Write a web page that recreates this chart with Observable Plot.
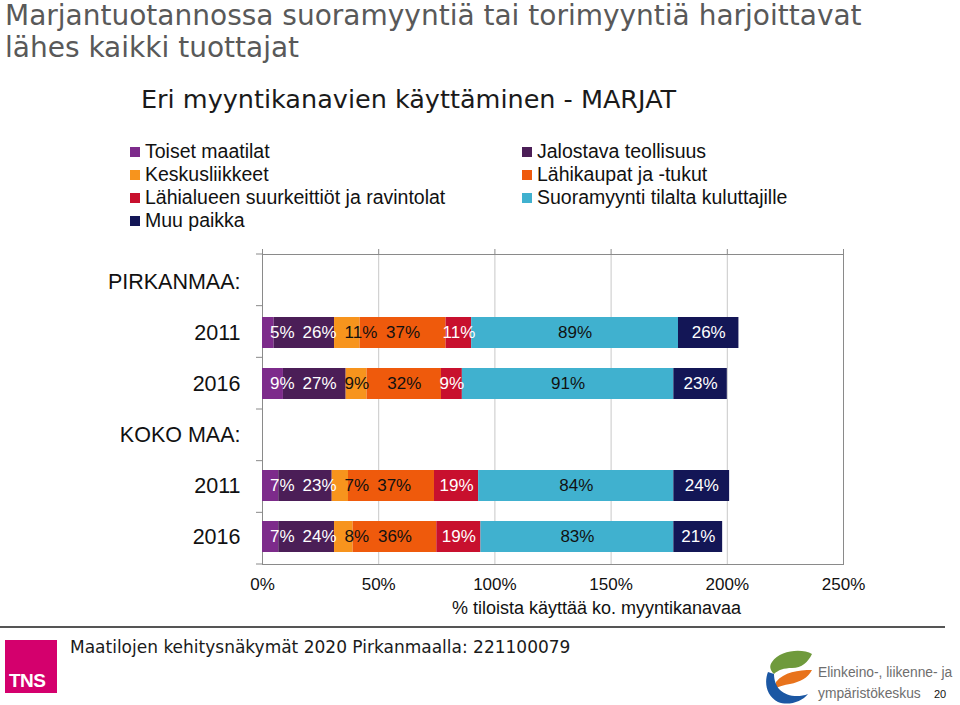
<!DOCTYPE html>
<html>
<head>
<meta charset="utf-8">
<script src="https://cdn.jsdelivr.net/npm/d3@7"></script>
<script src="https://cdn.jsdelivr.net/npm/@observablehq/plot@0.6"></script>
<style>
  html, body { margin: 0; padding: 0; background: #fff; }
  #page { position: relative; width: 960px; height: 705px; overflow: hidden; font-family: "Liberation Sans", Arial, sans-serif; }
  .abs { position: absolute; white-space: nowrap; }
  #title { left: 5px; top: 0px; font-family: "DejaVu Sans", Verdana, sans-serif; font-size: 28px; line-height: 32px; color: #595959; }
  #subtitle { left: 141px; top: 84px; font-family: "DejaVu Sans", Verdana, sans-serif; font-size: 25.5px; color: #1a1a1a; }
  #legend { left: 130px; top: 140px; display: grid; grid-template-columns: 392px auto; grid-auto-rows: 23px; font-size: 19.5px; color: #111; }
  #legend .item { display: flex; align-items: center; }
  #legend .sw { width: 10px; height: 10px; margin-right: 5px; flex: none; }
  #chart { left: 0; top: 240px; }
  #xlabel { left: 452px; top: 598px; font-size: 18px; color: #111; }
  #rule { left: 0; top: 626px; width: 945px; height: 2px; background: #555; }
  #tns { left: 5px; top: 640px; width: 52px; height: 53px; background: #d4006d; }
  #tns span { position: absolute; left: 4px; bottom: 1px; color: #fff; font-weight: bold; font-size: 19px; letter-spacing: -0.5px; }
  #source { left: 70px; top: 637px; font-family: "DejaVu Sans", Verdana, sans-serif; font-size: 17px; color: #1a1a1a; }
  #ely { left: 758px; top: 648px; }
</style>
</head>
<body>
<div id="page">
  <div id="title" class="abs">Marjantuotannossa suoramyyntiä tai torimyyntiä harjoittavat<br>lähes kaikki tuottajat</div>
  <div id="subtitle" class="abs">Eri myyntikanavien käyttäminen - MARJAT</div>
  <div id="legend" class="abs"></div>
  <div id="chart" class="abs"></div>
  <div id="xlabel" class="abs">% tiloista käyttää ko. myyntikanavaa</div>
  <div id="rule" class="abs"></div>
  <div id="tns" class="abs"><span>TNS</span></div>
  <div id="source" class="abs">Maatilojen kehitysnäkymät 2020 Pirkanmaalla: 221100079</div>
  <svg id="ely" class="abs" width="202" height="57" viewBox="0 0 202 57">
    <path d="M14,14 C22,2 44,0 54,6 C50,14 44,20 34,20 C26,20 20,22 16,26 C12,22 11,18 14,14 Z" fill="#6f9a3c"/>
    <path d="M18,34 C26,24 40,22 54,22 C50,30 42,34 32,36 C26,37 22,38 18,40 Z" fill="#e8731c"/>
    <path d="M10,24 C6,34 8,48 20,54 C30,58 44,54 50,46 C40,50 28,48 22,42 C18,38 16,32 16,26 Z" fill="#1b57a3"/>
    <text x="60" y="29" font-family="Liberation Sans, Arial" font-size="13.8" fill="#6e6e6e">Elinkeino-, liikenne- ja</text>
    <text x="60" y="50" font-family="Liberation Sans, Arial" font-size="13.8" fill="#6e6e6e">ympäristökeskus</text>
    <text x="176" y="50" font-family="Liberation Sans, Arial" font-size="11" fill="#111">20</text>
  </svg>
</div>
<script>
// ---- data ----
const channels = [
  "Toiset maatilat",
  "Jalostava teollisuus",
  "Keskusliikkeet",
  "Lähikaupat ja -tukut",
  "Lähialueen suurkeittiöt ja ravintolat",
  "Suoramyynti tilalta kuluttajille",
  "Muu paikka"
];
const channelColors = ["#7d2b8b", "#4b1e57", "#f7941d", "#ef5a0c", "#c8102e", "#40b1cf", "#131656"];
const labelColors = ["#ffffff", "#ffffff", "#111111", "#111111", "#ffffff", "#111111", "#ffffff"];

const regions = ["PIRKANMAA:", "KOKO MAA:"];
const years = ["2011", "2016"];

const pirkanmaa2011 = [5, 26, 11, 37, 11, 89, 26];
const pirkanmaa2016 = [9, 27, 9, 32, 9, 91, 23];
const kokomaa2011 = [7, 23, 7, 37, 19, 84, 24];
const kokomaa2016 = [7, 24, 8, 36, 19, 83, 21];

const xTicks = [0, 50, 100, 150, 200, 250];

// ---- build table ----
const seriesByRegion = {
  "PIRKANMAA:": [pirkanmaa2011, pirkanmaa2016],
  "KOKO MAA:": [kokomaa2011, kokomaa2016]
};
const rows = [];
for (const r of regions) {
  rows.push({key: r, label: r, values: null});
  years.forEach((y, j) => rows.push({key: r + " " + y, label: y, values: seriesByRegion[r][j]}));
}
const yKeys = rows.map(r => r.key);
const labelOf = Object.fromEntries(rows.map(r => [r.key, r.label]));
const data = rows.flatMap(r => r.values ? r.values.map((v, i) => ({key: r.key, channel: channels[i], i, value: v})) : []);

// ---- legend ----
const legend = document.getElementById("legend");
channels.forEach((c, i) => {
  const item = document.createElement("div");
  item.className = "item";
  item.innerHTML = `<span class="sw" style="background:${channelColors[i]}"></span><span>${c}</span>`;
  legend.appendChild(item);
});

// ---- chart ----
const frameColor = "#8a8a8a";
const leftTicks = (index, scales, values, dimensions) => {
  const g = d3.create("svg:g").attr("stroke", frameColor);
  const top = dimensions.marginTop;
  const bottom = dimensions.height - dimensions.marginBottom;
  const x0 = dimensions.marginLeft;
  const n = yKeys.length;
  for (let i = 0; i <= n; i++) {
    const y = top + (bottom - top) * i / n;
    g.append("line").attr("x1", x0 - 6).attr("x2", x0).attr("y1", y).attr("y2", y);
  }
  return g.node();
};

const labelOpts = {x: "value", y: "key", z: "channel", order: null, fontSize: 17};
const chart = Plot.plot({
  width: 960,
  height: 364,
  marginLeft: 262,
  marginRight: 117,
  marginTop: 14,
  marginBottom: 40,
  style: {fontFamily: "'Liberation Sans', Arial, sans-serif", background: "transparent", color: "#111"},
  x: {domain: [0, 250]},
  y: {type: "band", domain: yKeys, padding: 0},
  color: {domain: channels, range: channelColors},
  marks: [
    Plot.gridX([50, 100, 150, 200], {stroke: "#c8c8c8", strokeOpacity: 1}),
    Plot.frame({stroke: frameColor}),
    Plot.axisX({ticks: xTicks, tickFormat: d => d + "%", tickSize: 0, tickPadding: 13, fontSize: 17, label: null}),
    Plot.axisX({anchor: "top", ticks: xTicks, tickSize: 6, tickFormat: () => "", label: null, stroke: frameColor}),
    Plot.axisY({tickSize: 0, tickPadding: 22, fontSize: 21.5, tickFormat: k => labelOf[k], label: null}),
    leftTicks,
    Plot.barX(data, {x: "value", y: "key", fill: "channel", order: null, insetTop: 10, insetBottom: 10}),
    Plot.text(data, Plot.stackX({...labelOpts, className: "seglabel",
      text: d => d.value + "%", fill: d => labelColors[d.i]}))
  ]
});
document.getElementById("chart").appendChild(chart);

// ---- nudge overlapping segment labels to the right (layout pass) ----
(function nudge() {
  const svg = chart.tagName === "svg" ? chart : chart.querySelector("svg");
  const svgBox = svg.getBoundingClientRect();
  const texts = Array.from(svg.querySelectorAll(".seglabel text"));
  const x0 = 262; // plot left edge (marginLeft)
  const groups = d3.group(texts.map(t => {
    const b = t.getBoundingClientRect();
    return {t, left: b.left - svgBox.left, width: b.width, y: Math.round(b.top)};
  }), d => d.y);
  for (const [, items] of groups) {
    items.sort((a, b) => a.left - b.left);
    let minLeft = x0 + 8;
    for (const it of items) {
      const shift = Math.max(0, minLeft - it.left);
      if (shift > 0) {
        const tr = it.t.getAttribute("transform") || "";
        it.t.setAttribute("transform", (tr + ` translate(${shift},0)`).trim());
      }
      minLeft = it.left + shift + it.width + 8;
    }
  }
})();
</script>
</body>
</html>
